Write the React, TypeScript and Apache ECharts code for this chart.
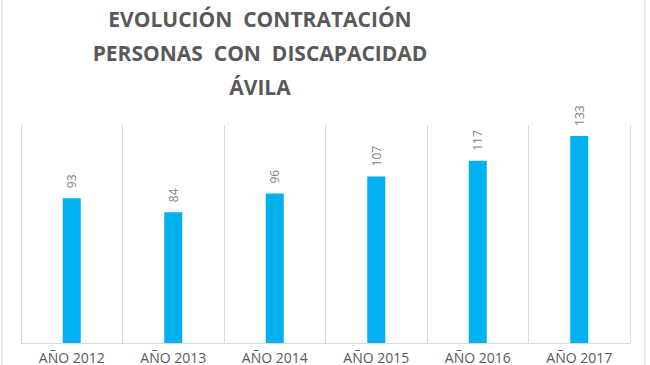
import React, { useEffect, useRef } from "react";
import * as echarts from "echarts";

const categories = ["AÑO 2012", "AÑO 2013", "AÑO 2014", "AÑO 2015", "AÑO 2016", "AÑO 2017"];
const values = [93, 84, 96, 107, 117, 133];
const titleLines = ["EVOLUCIÓN  CONTRATACIÓN", "PERSONAS  CON  DISCAPACIDAD", "ÁVILA"];

export default function App() {
  const ref = useRef<HTMLDivElement>(null);
  useEffect(() => {
    if (!ref.current) return;
    const chart = echarts.init(ref.current, undefined, { renderer: "svg" });
    chart.setOption({
      animation: false,
      backgroundColor: "#ffffff",
      title: {
        text: titleLines.join("\n"),
        left: 255,
        top: -3,
        textAlign: "center",
        textStyle: {
          fontFamily: "Open Sans",
          fontWeight: "bold",
          fontSize: 21,
          lineHeight: 34,
          color: "#595959",
          align: "center",
        },
      },
      graphic: [
        {
          type: "rect",
          shape: { x: 2, y: -5, width: 643, height: 380 },
          style: { fill: "none", stroke: "#d9d9d9", lineWidth: 1 },
          silent: true,
        },
      ],
      grid: { left: 21, right: 20, top: 125, bottom: 22, containLabel: false },
      xAxis: {
        type: "category",
        data: categories,
        axisLine: { show: true, lineStyle: { color: "#d9d9d9", width: 1 } },
        axisTick: { show: false },
        splitLine: { show: true, lineStyle: { color: "#d9d9d9", width: 1 } },
        axisLabel: {
          color: "#595959",
          fontSize: 14,
          lineHeight: 14,
          fontFamily: "Open Sans",
          margin: 7,
        },
      },
      yAxis: {
        type: "value",
        min: 0,
        max: 140,
        show: false,
        splitLine: { show: false },
      },
      series: [
        {
          type: "bar",
          data: values,
          barWidth: 18,
          itemStyle: { color: "#00b0f0" },
          label: {
            show: true,
            position: "top",
            rotate: 90,
            align: "left",
            verticalAlign: "middle",
            distance: 10,
            color: "#7f7f7f",
            fontSize: 12,
            fontFamily: "Open Sans",
          },
        },
      ],
    });
    return () => chart.dispose();
  }, []);
  return (
    <div
      ref={ref}
      style={{ position: "fixed", left: 0, top: 0, width: 650, height: 365 }}
    />
  );
}
